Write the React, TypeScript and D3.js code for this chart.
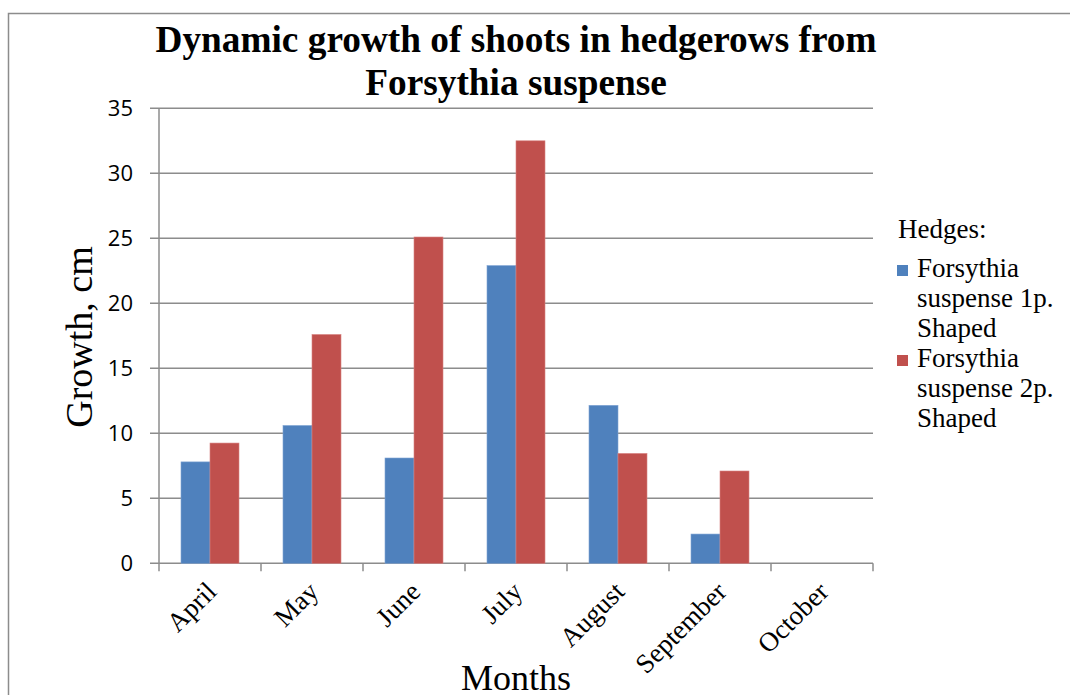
import React from "react";
import * as d3 from "d3";

const months = ["April", "May", "June", "July", "August", "September", "October"];
const series1 = [7.8, 10.6, 8.1, 22.9, 12.15, 2.25, 0];
const series2 = [9.25, 17.6, 25.1, 32.5, 8.45, 7.1, 0];
const legendLines = [["Forsythia", "suspense 1p.", "Shaped"], ["Forsythia", "suspense 2p.", "Shaped"]];
const yTicks = [0, 5, 10, 15, 20, 25, 30, 35];
const colors = ["#4F81BD", "#C0504D"];

export default function App() {
  const W = 1070, H = 695;
  const left = 159, right = 873, top = 108.3, bottom = 563.3;
  const x = d3.scaleBand<string>().domain(months).range([left, right]).paddingInner(0).paddingOuter(0);
  const y = d3.scaleLinear().domain([0, 35]).range([bottom, top]);
  const groupFrac = 58 / 102;
  const bw = (x.bandwidth() * groupFrac) / 2;
  const serif = "'Liberation Serif', 'Times New Roman', serif";
  const sans = "'Open Sans', 'Liberation Sans', sans-serif";
  const grid = "#8c8c8c";
  const data = [series1, series2];
  return (
    <svg width={W} height={H} style={{ position: "absolute", left: 0, top: 0, background: "#fff" }}>
      <rect x={0} y={0} width={W} height={H} fill="#fff" />
      <path d={`M8.5,${H} V13.5 H${W}`} fill="none" stroke="#8c8c8c" strokeWidth={1.5} />
      <text x={516} y={52} textAnchor="middle" fontFamily={serif} fontWeight="bold" fontSize={37.3}>Dynamic growth of shoots in hedgerows from</text>
      <text x={516} y={95} textAnchor="middle" fontFamily={serif} fontWeight="bold" fontSize={37.3}>Forsythia suspense</text>
      {yTicks.map((t) => (
        <g key={t}>
          <line x1={150} x2={right} y1={y(t)} y2={y(t)} stroke={grid} strokeWidth={1.5} />
          <text x={133} y={y(t) + 8} textAnchor="end" fontFamily={sans} fontSize={22}>{t}</text>
        </g>
      ))}
      <line x1={left} x2={left} y1={top} y2={bottom} stroke={grid} strokeWidth={1.5} />
      {months.map((m, i) => (
        <line key={"t" + i} x1={x(m)!} x2={x(m)!} y1={bottom} y2={bottom + 8} stroke={grid} strokeWidth={1.5} />
      ))}
      <line x1={right} x2={right} y1={bottom} y2={bottom + 8} stroke={grid} strokeWidth={1.5} />
      {data.map((s, si) =>
        s.map((v, i) => {
          const cx = x(months[i])! + x.bandwidth() / 2;
          const bx = cx - bw + si * bw;
          return v > 0 ? (
            <rect key={si + "-" + i} x={bx} y={y(v)} width={bw} height={y(0) - y(v)} fill={colors[si]}
              stroke={si === 0 ? "#7fa3d3" : "#d88280"} strokeWidth={0.6} />
          ) : null;
        })
      )}
      {months.map((m) => {
        const cx = x(m)! + x.bandwidth() / 2 + 8;
        const ty = bottom + 30;
        return (
          <text key={"l" + m} x={cx} y={ty} textAnchor="end" fontFamily={serif} fontSize={27}
            transform={`rotate(-45 ${cx} ${ty})`}>{m}</text>
        );
      })}
      <text transform="translate(92 337) rotate(-90)" textAnchor="middle" fontFamily={serif} fontSize={38}>Growth, cm</text>
      <text x={516} y={690} textAnchor="middle" fontFamily={serif} fontSize={36}>Months</text>
      <text x={898} y={238} fontFamily={serif} fontSize={27}>Hedges:</text>
      {legendLines.map((lines, li) => (
        <g key={"lg" + li}>
          <rect x={897} y={265 + li * 90} width={11} height={11} fill={colors[li]} />
          {lines.map((ln, k) => (
            <text key={k} x={917} y={277 + li * 90 + k * 30} fontFamily={serif} fontSize={27}>{ln}</text>
          ))}
        </g>
      ))}
    </svg>
  );
}
